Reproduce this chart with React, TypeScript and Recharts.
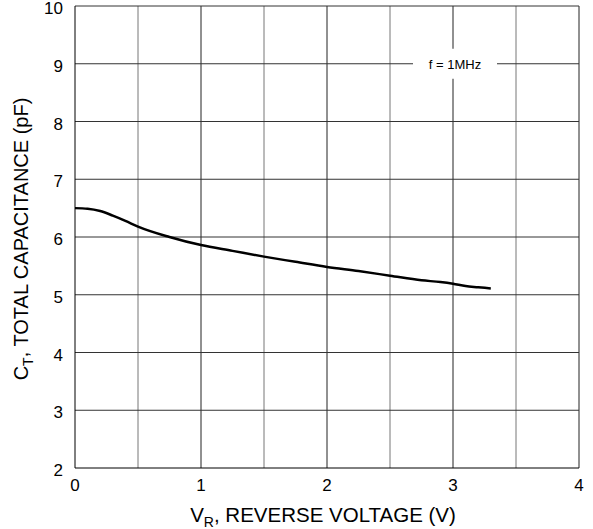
import React from "react";
import {
  LineChart, Line, XAxis, YAxis, ReferenceLine, ReferenceDot, Label,
} from "recharts";

// reverse voltage (V) vs total capacitance (pF), f = 1MHz
const voltage = [0, 0.1, 0.2, 0.3, 0.4, 0.5, 0.75, 1.0, 1.25, 1.5, 1.75, 2.0, 2.25, 2.5, 2.75, 2.9, 3.0, 3.1, 3.2, 3.3];
const capacitance = [6.5, 6.49, 6.45, 6.37, 6.28, 6.18, 6.0, 5.86, 5.76, 5.66, 5.57, 5.48, 5.41, 5.33, 5.25, 5.22, 5.19, 5.15, 5.13, 5.11];

const xTicks = [0, 1, 2, 3, 4];
const yTicks = [2, 3, 4, 5, 6, 7, 8, 9, 10];
const xGrid = [0.5, 1, 1.5, 2, 2.5, 3, 3.5, 4];
const yGrid = [3, 4, 5, 6, 7, 8, 9, 10];

const data = voltage.map((v, i) => ({ v, c: capacitance[i] }));

const FONT = "'Liberation Sans', Arial, sans-serif";

function YTitle(props: any) {
  const { viewBox } = props;
  const x = 28;
  const y = viewBox.y + viewBox.height / 2 + 2;
  return (
    <text x={x} y={y} transform={`rotate(-90 ${x} ${y})`} textAnchor="middle"
      fontFamily={FONT} fontSize={20} fill="#000">
      C<tspan fontSize={14} dy={5}>T</tspan><tspan dy={-5}>, TOTAL CAPACITANCE (pF)</tspan>
    </text>
  );
}

function XTitle(props: any) {
  const { viewBox } = props;
  const x = viewBox.x + viewBox.width / 2 - 4;
  const y = 522;
  return (
    <text x={x} y={y} textAnchor="middle" fontFamily={FONT} fontSize={20.5} fill="#000">
      V<tspan fontSize={14} dy={5}>R</tspan><tspan dy={-5}>, REVERSE VOLTAGE (V)</tspan>
    </text>
  );
}

function FreqNote(props: any) {
  const { cx, cy } = props;
  return (
    <g>
      <rect x={cx - 40} y={cy - 15} width={84} height={30} fill="#fff" />
      <text x={cx + 2} y={cy + 5} textAnchor="middle" fontFamily={FONT} fontSize={13} fill="#000">
        f = 1MHz
      </text>
    </g>
  );
}

export default function App() {
  return (
    <div style={{ position: "absolute", left: 0, top: 0, background: "#fff" }}>
      <LineChart width={593} height={529} data={data}
        margin={{ top: 6, right: 14, left: 0, bottom: 0 }}>
        {xGrid.map((g) => (
          <ReferenceLine key={"x" + g} x={g} stroke={g % 1 === 0 ? "#222" : "#777"} strokeWidth={1} />
        ))}
        {yGrid.map((g) => (
          <ReferenceLine key={"y" + g} y={g} stroke="#333" strokeWidth={1} />
        ))}
        <XAxis dataKey="v" type="number" domain={[0, 4]} ticks={xTicks} height={61}
          tickSize={0} tickMargin={11} axisLine={{ stroke: "#000" }}
          tick={{ fontSize: 17, fill: "#000", fontFamily: FONT }}>
          <Label content={<XTitle />} />
        </XAxis>
        <YAxis type="number" domain={[2, 10]} ticks={yTicks} width={75} interval={0}
          tickSize={0} tickMargin={12} axisLine={{ stroke: "#000" }}
          tick={{ fontSize: 17, fill: "#000", fontFamily: FONT, dy: 2 }}>
          <Label content={<YTitle />} />
        </YAxis>
        <Line dataKey="c" type="monotone" stroke="#000" strokeWidth={2.5} dot={false}
          isAnimationActive={false} />
        <ReferenceDot x={3} y={9} r={0} shape={<FreqNote />} />
      </LineChart>
    </div>
  );
}
